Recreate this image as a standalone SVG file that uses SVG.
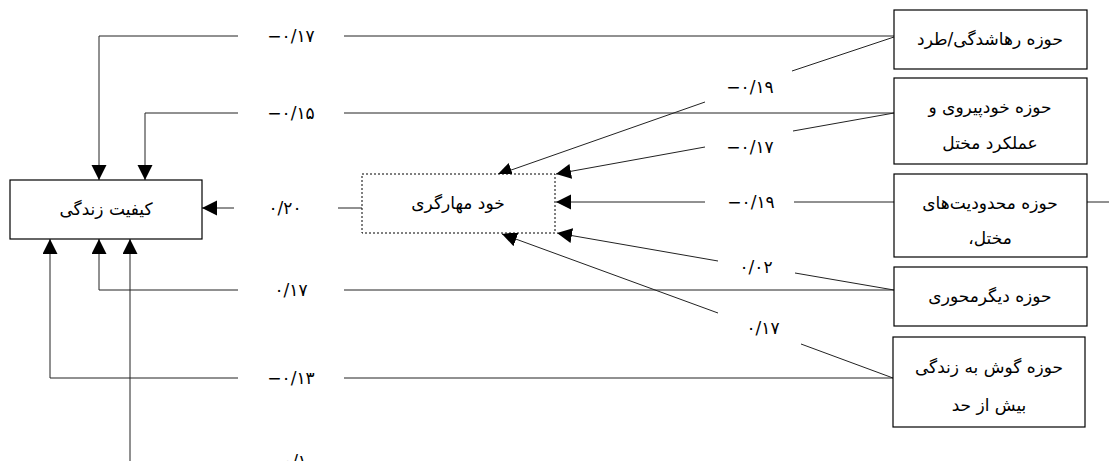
<svg xmlns="http://www.w3.org/2000/svg" width="1109" height="461" viewBox="0 0 1109 461">
<style>
.box{fill:#fff;stroke:#000;stroke-width:1.2}
.dbox{fill:#fff;stroke:#000;stroke-width:1;stroke-dasharray:2,2}
.ln{fill:none;stroke:#222;stroke-width:1}
.fa{font-family:"DejaVu Sans",sans-serif;font-size:17px;fill:#000;text-anchor:middle}
.num{font-family:"DejaVu Sans",sans-serif;font-size:17px;fill:#000;text-anchor:middle}
</style>
<defs>
<marker id="ah" markerUnits="userSpaceOnUse" markerWidth="16" markerHeight="16" refX="15" refY="7.5" orient="auto">
<path d="M0,0 L15,7.5 L0,15 z" fill="#000"/>
</marker>
</defs>
<rect width="1109" height="461" fill="#fff"/>
<g id="connectors">
<path class="ln" d="M894,36 H344"/>
<path class="ln" d="M238,36 H99 V180" marker-end="url(#ah)"/>
<path class="ln" d="M894,113 H344"/>
<path class="ln" d="M238,113 H145 V180" marker-end="url(#ah)"/>
<path class="ln" d="M894,290 H344"/>
<path class="ln" d="M238,290 H99 V239" marker-end="url(#ah)"/>
<path class="ln" d="M893,378 H344"/>
<path class="ln" d="M238,378 H50 V239" marker-end="url(#ah)"/>
<path class="ln" d="M130,461 V239" marker-end="url(#ah)"/>
<path class="ln" d="M362,208 H338"/>
<path class="ln" d="M234,208 H202" marker-end="url(#ah)"/>
<path class="ln" d="M894,37 L792,71"/>
<path class="ln" d="M705,102 L497,175" marker-end="url(#ah)"/>
<path class="ln" d="M894,113 L793,131"/>
<path class="ln" d="M705,147 L556,174" marker-end="url(#ah)"/>
<path class="ln" d="M894,202 H794"/>
<path class="ln" d="M705,202 H556" marker-end="url(#ah)"/>
<path class="ln" d="M894,290 L795,273"/>
<path class="ln" d="M718,261 L557,233" marker-end="url(#ah)"/>
<path class="ln" d="M893,378 L801,344"/>
<path class="ln" d="M718,313 L502,234" marker-end="url(#ah)"/>
<path class="ln" d="M1087,202 H1109"/>
<g id="labels">
<text class="num" x="291" y="42">−۰/۱۷</text>
<text class="num" x="291" y="119">−۰/۱۵</text>
<text class="num" x="285" y="214">۰/۲۰</text>
<text class="num" x="291" y="296">۰/۱۷</text>
<text class="num" x="291" y="384">−۰/۱۳</text>
<text class="num" x="295" y="467">۰/۱</text>
<text class="num" x="750" y="93">−۰/۱۹</text>
<text class="num" x="750" y="153">−۰/۱۷</text>
<text class="num" x="751" y="208">−۰/۱۹</text>
<text class="num" x="756" y="273">۰/۰۲</text>
<text class="num" x="763" y="334">۰/۱۷</text>
</g>
</g>
<g id="node-life">
<rect class="box" x="10" y="180" width="192" height="59"/>
<text class="fa" x="106" y="215" direction="rtl">کیفیت زندگی</text>
</g>
<g id="node-selfcontrol">
<rect class="dbox" x="362" y="174" width="193" height="59"/>
<text class="fa" x="458" y="209" direction="rtl">خود مهارگری</text>
</g>
<g id="node-d1">
<rect class="box" x="894" y="10" width="193" height="59"/>
<text class="fa" x="990" y="45" direction="rtl">حوزه رهاشدگی/طرد</text>
</g>
<g id="node-d2">
<rect class="box" x="894" y="78" width="193" height="86"/>
<text class="fa" x="990" y="113" direction="rtl">حوزه خودپیروی و</text>
<text class="fa" x="990" y="149" direction="rtl">عملکرد مختل</text>
</g>
<g id="node-d3">
<rect class="box" x="894" y="174" width="193" height="83"/>
<text class="fa" x="990" y="209" direction="rtl">حوزه محدودیت‌های</text>
<text class="fa" x="990" y="244" direction="rtl">مختل،</text>
</g>
<g id="node-d4">
<rect class="box" x="894" y="267" width="193" height="59"/>
<text class="fa" x="990" y="302" direction="rtl">حوزه دیگرمحوری</text>
</g>
<g id="node-d5">
<rect class="box" x="893" y="337" width="192" height="90"/>
<text class="fa" x="989" y="373" direction="rtl">حوزه گوش به زندگی</text>
<text class="fa" x="989" y="411" direction="rtl">بیش از حد</text>
</g>
</svg>
